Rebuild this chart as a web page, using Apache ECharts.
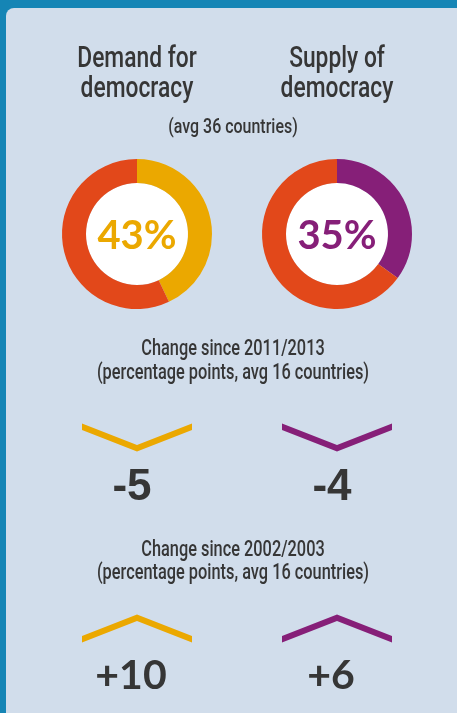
<!DOCTYPE html>
<html>
<head>
<meta charset="utf-8">
<script src="https://cdn.jsdelivr.net/npm/echarts@6/dist/echarts.min.js"></script>
<style>
html,body{margin:0;padding:0;background:#1585b5;}
#chart{width:457px;height:713px;}
</style>
</head>
<body>
<div id="chart"></div>
<script>
// ---- data ----
const sides = ['Demand for democracy', 'Supply of democracy'];
const shareLevels = [43, 35];            // % (avg 36 countries)
const periods = ['Change since 2011/2013', 'Change since 2002/2003'];
const change20112013 = [-5, -4];         // percentage points, avg 16 countries
const change20022003 = [10, 6];
const subtitleTop = '(avg 36 countries)';
const subtitleChange = '(percentage points, avg 16 countries)';

// ---- styles ----
const RED = '#e2481a';
const SIDE_COLORS = ['#eba800', '#861f78'];
const TEXT = '#363636';
const PANEL = '#d1ddeb';
const COND = "Roboto,'Liberation Sans',sans-serif";
const GEO = "Lato,'Open Sans',sans-serif";
const SX = 0.76;   // horizontal squeeze to imitate the condensed face
const pieCenters = [[137, 234], [337, 234]];

const CHEV_DOWN = 'path://M0,0 L54,21 L108,0 L108,6.4 L54,27.4 L0,6.4 Z';
const CHEV_UP = 'path://M0,21 L54,0 L108,21 L108,27.4 L54,6.4 L0,27.4 Z';

const chart = echarts.init(document.getElementById('chart'));

const changeRows = [change20112013, change20022003];
const scatterData = [];
changeRows.forEach((row, r) => {
  row.forEach((v, i) => {
    scatterData.push({
      value: [sides[i], periods[r], v],
      symbol: v < 0 ? CHEV_DOWN : CHEV_UP,
      itemStyle: { color: SIDE_COLORS[i], opacity: 1 },
      label: {
        fontFamily: v < 0 ? "'Liberation Sans',Arimo,sans-serif" : GEO,
        fontWeight: 'bold',
        fontSize: v < 0 ? 44 : 41,
        offset: [v < 0 ? -5 : -6, v < 0 ? 50 : 47]
      }
    });
  });
});

const graphics = [
  { type: 'rect', shape: { x: 6, y: 8, width: 460, height: 720, r: 8 }, style: { fill: PANEL }, z: -10, silent: true }
];
function ctext(txt, x, y, size, weight, lh) {
  return {
    type: 'text', x: x, y: y, scaleX: SX,
    style: { text: txt, fill: TEXT, font: (weight || 'normal') + ' ' + size + 'px ' + COND, align: 'center', verticalAlign: 'middle', lineHeight: lh || size }
  };
}
sides.forEach((s, i) => {
  const k = s.lastIndexOf(' ');
  graphics.push(ctext(s.slice(0, k) + '\n' + s.slice(k + 1), pieCenters[i][0], 74, 30, '500', 30));
  graphics.push({
    type: 'circle', shape: { cx: pieCenters[i][0], cy: pieCenters[i][1], r: 51 }, style: { fill: '#ffffff' }, z: -5, silent: true
  });
});
graphics.push(ctext(subtitleTop, 233, 128, 21, '500'));
[[350, 374], [551, 574]].forEach((ys, r) => {
  graphics.push(ctext(periods[r], 233, ys[0], 21.5, '500'));
  graphics.push(ctext(subtitleChange, 233, ys[1], 21.5, '500'));
});

const pies = sides.map((s, i) => ({
  type: 'pie',
  name: s,
  center: pieCenters[i],
  radius: [51, 75],
  startAngle: 90,
  clockwise: true,
  silent: true,
  avoidLabelOverlap: false,
  labelLine: { show: false },
  itemStyle: { borderWidth: 0 },
  data: [
    {
      value: shareLevels[i], name: s,
      itemStyle: { color: SIDE_COLORS[i] },
      label: { show: true, position: 'center', formatter: '{c}%', color: SIDE_COLORS[i], fontFamily: GEO, fontWeight: 'bold', fontSize: 40, offset: [0, 2] }
    },
    { value: 100 - shareLevels[i], name: 'rest', itemStyle: { color: RED }, label: { show: false } }
  ]
}));

chart.setOption({
  backgroundColor: 'transparent',
  animation: false,
  graphic: graphics,
  grid: { left: 37, width: 400, top: 437.5, height: 191 },
  xAxis: { type: 'category', data: sides, show: false },
  yAxis: { type: 'category', data: periods, inverse: true, show: false, boundaryGap: false },
  series: pies.concat([{
    type: 'scatter',
    symbolSize: [110, 28],
    silent: true,
    itemStyle: { opacity: 1 },
    label: {
      show: true,
      position: 'inside',
      color: TEXT,
      formatter: p => (p.value[2] > 0 ? '+' : '') + p.value[2]
    },
    data: scatterData
  }])
});
</script>
</body>
</html>
